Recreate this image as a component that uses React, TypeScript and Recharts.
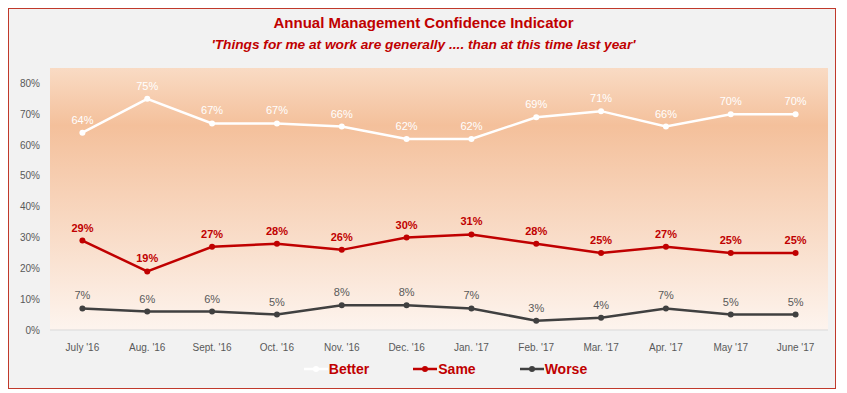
import { LineChart, Line, XAxis, YAxis, ReferenceArea, LabelList } from 'recharts'

const months = ["July '16", "Aug. '16", "Sept. '16", "Oct. '16", "Nov. '16", "Dec. '16", "Jan. '17", "Feb. '17", "Mar. '17", "Apr. '17", "May '17", "June '17"]
const better = [64, 75, 67, 67, 66, 62, 62, 69, 71, 66, 70, 70]
const same = [29, 19, 27, 28, 26, 30, 31, 28, 25, 27, 25, 25]
const worse = [7, 6, 6, 5, 8, 8, 7, 3, 4, 7, 5, 5]
const yTicks = [0, 10, 20, 30, 40, 50, 60, 70, 80]

const RED = '#c00000'
const FONT = "'Liberation Sans', Arial, sans-serif"

const seriesInfo = [
  { key: 'better', name: 'Better', color: '#ffffff' },
  { key: 'same', name: 'Same', color: RED },
  { key: 'worse', name: 'Worse', color: '#404040' },
]

// legend drawn outside the chart so it doesn't shrink the plot area
function ChartLegend() {
  return (
    <div style={{
      position: 'absolute', left: 22, top: 361, width: 847,
      display: 'flex', justifyContent: 'center', gap: 44, fontFamily: FONT,
    }}>
      {seriesInfo.map(s => (
        <div key={s.key} style={{ display: 'flex', alignItems: 'center' }}>
          <svg width={24} height={10}>
            <line x1={0} y1={5} x2={24} y2={5} stroke={s.color} strokeWidth={2.5} />
            <circle cx={12} cy={5} r={3} fill={s.color} />
          </svg>
          <span style={{ color: RED, fontWeight: 'bold', fontSize: 14, marginLeft: 1 }}>{s.name}</span>
        </div>
      ))}
    </div>
  )
}

export default function App() {
  const data = months.map((m, i) => ({ month: m, better: better[i], same: same[i], worse: worse[i] }))

  return (
    <div style={{ position: 'absolute', left: 0, top: 0, width: 847, height: 393, background: '#ffffff' }}>
      <div style={{
        position: 'absolute', left: 8, top: 8, width: 826, height: 379,
        background: '#f2f2f2', border: '1.5px solid #c0392b',
      }} />
      <div style={{
        position: 'absolute', left: 0, top: 14, width: 847, textAlign: 'center',
        color: RED, fontFamily: FONT, fontWeight: 'bold', fontSize: 15,
      }}>
        Annual Management Confidence Indicator
      </div>
      <div style={{
        position: 'absolute', left: 0, top: 37, width: 847, textAlign: 'center',
        color: RED, fontFamily: FONT, fontWeight: 'bold', fontStyle: 'italic', fontSize: 13.7,
      }}>
        'Things for me at work are generally .... than at this time last year'
      </div>
      <div style={{ position: 'absolute', left: 0, top: 0 }}>
        <LineChart width={847} height={393} data={data} margin={{ top: 68, right: 19, bottom: 33, left: 10 }}>
          <defs>
            <linearGradient id="plotBg" x1="0" y1="0" x2="0" y2="1">
              <stop offset="0%" stopColor="#f9dbc4" />
              <stop offset="22%" stopColor="#f4c09b" />
              <stop offset="100%" stopColor="#fdf4ee" />
            </linearGradient>
          </defs>
          <ReferenceArea y1={0} y2={85} fill="url(#plotBg)" fillOpacity={1} stroke="none" />
          <XAxis
            dataKey="month"
            scale="band"
            height={30}
            tickLine={false}
            axisLine={{ stroke: '#d9d9d9' }}
            tick={{ fill: '#595959', fontSize: 10, fontFamily: FONT }}
            tickMargin={8}
            interval={0}
          />
          <YAxis
            width={40}
            domain={[0, 85]}
            ticks={yTicks}
            tickFormatter={(v: number) => `${v}%`}
            axisLine={false}
            tickLine={false}
            tick={{ fill: '#595959', fontSize: 10, fontFamily: FONT }}
            tickMargin={4}
          />
          <Line dataKey="better" name="Better" stroke="#ffffff" strokeWidth={2.5}
            dot={{ r: 3, fill: '#ffffff', stroke: '#ffffff', strokeWidth: 0 }} activeDot={false} isAnimationActive={false}>
            <LabelList dataKey="better" position="top" offset={9} formatter={(v: number) => `${v}%`}
              fill="#ffffff" fontSize={11} fontFamily={FONT} />
          </Line>
          <Line dataKey="same" name="Same" stroke={RED} strokeWidth={2.5}
            dot={{ r: 3, fill: RED, stroke: RED, strokeWidth: 0 }} activeDot={false} isAnimationActive={false}>
            <LabelList dataKey="same" position="top" offset={9} formatter={(v: number) => `${v}%`}
              fill={RED} fontSize={11} fontWeight="bold" fontFamily={FONT} />
          </Line>
          <Line dataKey="worse" name="Worse" stroke="#404040" strokeWidth={2.5}
            dot={{ r: 3, fill: '#404040', stroke: '#404040', strokeWidth: 0 }} activeDot={false} isAnimationActive={false}>
            <LabelList dataKey="worse" position="top" offset={9} formatter={(v: number) => `${v}%`}
              fill="#595959" fontSize={11} fontFamily={FONT} />
          </Line>
        </LineChart>
      </div>
      <ChartLegend />
    </div>
  )
}
